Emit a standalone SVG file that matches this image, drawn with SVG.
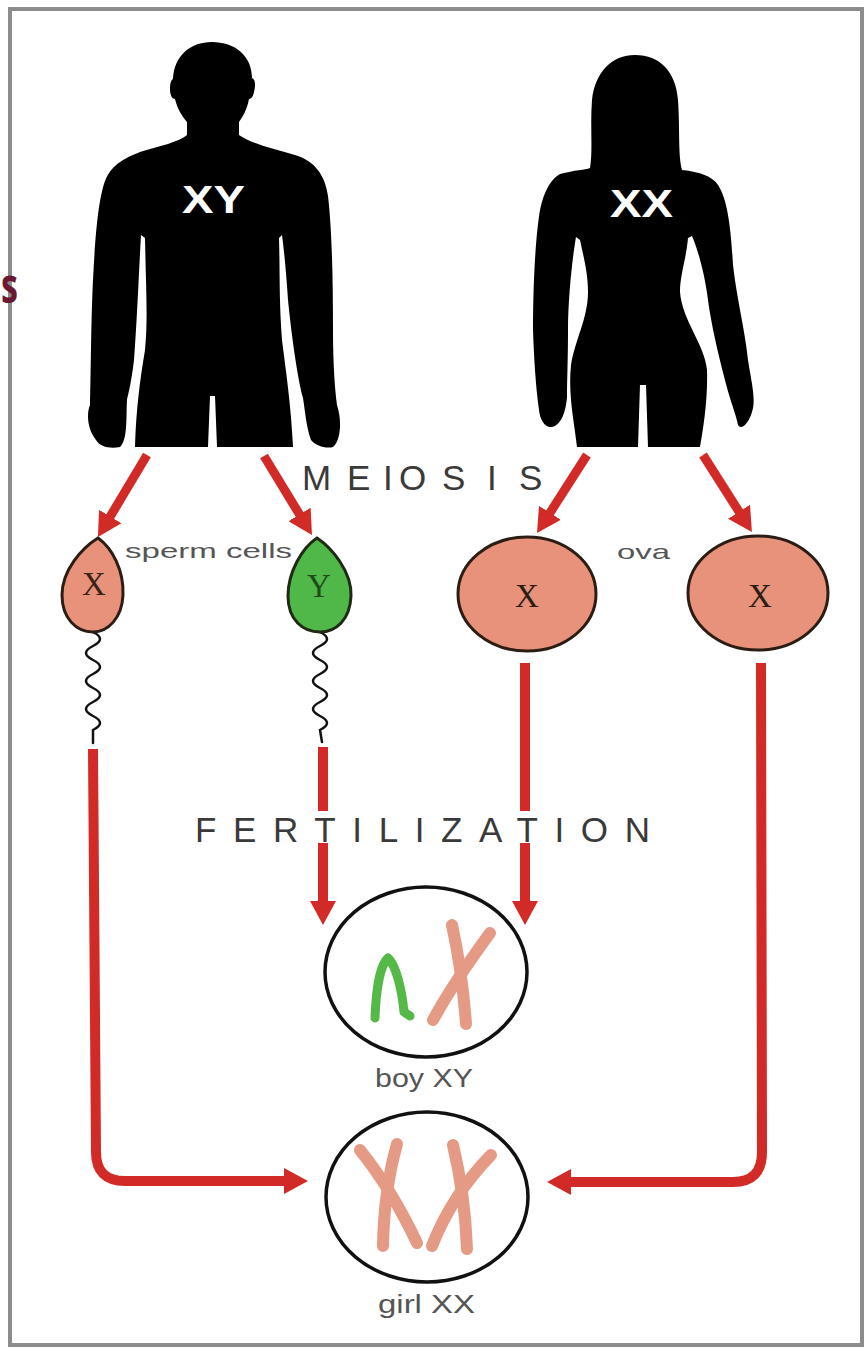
<svg xmlns="http://www.w3.org/2000/svg" width="864" height="1348" viewBox="0 0 864 1348">
  <defs>
    <style>
      .frame { fill: #ffffff; stroke: #8c8c8c; stroke-width: 4; }
      .body { fill: #000000; }
      .body-label { font-family: "Liberation Sans", Arial, sans-serif; font-weight: bold; font-size: 38px; fill: #ffffff; }
      .cell-x { fill: #e8917b; stroke: #2b1d14; stroke-width: 3; }
      .cell-y { fill: #4fb848; stroke: #1f2a14; stroke-width: 3; }
      .tail { fill: none; stroke: #111111; stroke-width: 2.5; stroke-linecap: round; }
      .gene { font-family: "Liberation Serif", "Times New Roman", serif; font-size: 33px; text-anchor: middle; }
      .zygote { fill: #ffffff; stroke: #111111; stroke-width: 3.5; }
      .chrom-x { fill: none; stroke: #e59a86; stroke-width: 12; stroke-linecap: round; }
      .chrom-y { fill: none; stroke: #55b947; stroke-width: 9; stroke-linecap: round; stroke-linejoin: round; }
      .stage { font-family: "Liberation Sans", Arial, sans-serif; font-size: 35px; fill: #3a3a3a; }
      .caption { font-family: "Liberation Sans", Arial, sans-serif; font-size: 21px; fill: #555555; }
      .caption-lg { font-family: "Liberation Sans", Arial, sans-serif; font-size: 25px; fill: #555555; }
      .flow { fill: none; stroke: #d22a26; stroke-width: 10; }
      .flow-thin { fill: none; stroke: #d22a26; stroke-width: 9; }
    </style>
    <marker id="head" markerUnits="userSpaceOnUse" viewBox="0 0 24 26" refX="4" refY="13" markerWidth="24" markerHeight="26" orient="auto">
      <path d="M0 0 L24 13 L0 26 Z" fill="#d22a26"/>
    </marker>
  </defs>

  <rect width="864" height="1348" fill="#ffffff"/>
  <rect class="frame" x="10" y="9" width="852" height="1336"/>
  <text x="1" y="303" font-family="'Open Sans', 'Liberation Sans', sans-serif" font-weight="bold" font-size="50" fill="#6b1830" textLength="17" lengthAdjust="spacingAndGlyphs">s</text>

  <!-- connectors -->
  <g id="connectors">
    <line class="flow-thin" x1="147" y1="455" x2="108.2" y2="519.9" marker-end="url(#head)"/>
    <line class="flow-thin" x1="264" y1="456" x2="301.6" y2="517.9" marker-end="url(#head)"/>
    <line class="flow-thin" x1="587" y1="455" x2="547.8" y2="516.2" marker-end="url(#head)"/>
    <line class="flow-thin" x1="703" y1="455" x2="741.2" y2="515.1" marker-end="url(#head)"/>
    <line class="flow" x1="323" y1="747" x2="323" y2="905" marker-end="url(#head)"/>
    <line class="flow" x1="525" y1="663" x2="525" y2="905" marker-end="url(#head)"/>
    <path class="flow" d="M93 749 L96 1152 Q96 1181 125 1181 L288 1181" marker-end="url(#head)"/>
    <path class="flow" d="M761 663 L762 1152 Q762 1182 733 1182 L567 1182" marker-end="url(#head)"/>
  </g>

  <!-- father -->
  <g id="male">
    <path class="body" d="M212 42 C235 42 252 56 252 78 C255 79 256 84 254 92 C253 97 251 99 249 99 C247 110 242 118 239 122 L239 135 C252 144 275 149 295 155 C315 161 325 175 328 196 C332 230 333 280 333 330 C333 365 335 390 337 405 C342 420 341 440 333 447 C326 449 316 446 311 440 C306 426 305 410 303 398 C298 380 292 340 288 300 C286 270 284 250 282 235 L279 238 C280 270 279 300 282 340 C286 372 291 405 293 447 L217 447 L215 396 L210 396 L208 447 L135 447 C136 410 140 380 145 350 C148 320 146 290 145 238 L141 235 C139 270 137 320 134 360 C131 385 128 395 127 400 C126 415 128 440 120 447 C110 449 100 447 96 440 C88 430 86 415 90 405 C91 370 91 320 93 280 C95 240 98 200 105 181 C112 163 128 157 140 152 C160 146 179 142 187 135 L187 122 C182 116 177 108 175 99 C172 99 170 95 170 89 C170 83 171 80 173 79 C174 56 190 42 212 42 Z"/>
    <text class="body-label" x="182" y="213" textLength="63" lengthAdjust="spacingAndGlyphs">XY</text>
  </g>

  <!-- mother -->
  <g id="female">
    <path class="body" d="M635 55 C660 55 676 72 678 100 C680 130 678 155 682 170 C700 172 712 176 718 185 C728 200 731 230 733 265 C737 300 745 330 748 360 C752 385 756 400 752 412 C748 425 741 430 738 425 C736 415 732 405 730 398 C722 370 712 330 708 300 C705 275 698 250 692 236 L688 238 C686 260 680 275 680 292 C682 320 705 345 707 370 C708 400 703 430 700 447 L648 447 L646 385 L640 385 L638 447 L577 447 C574 420 568 395 571 365 C575 340 588 318 588 292 C588 272 583 255 580 240 L576 237 C572 260 568 300 568 330 C568 360 567 380 567 397 C566 410 562 425 552 427 C545 428 540 420 539 410 C536 390 534 360 533 330 C533 290 535 240 540 210 C544 190 552 178 560 174 C575 170 585 170 590 168 C593 150 590 125 592 100 C595 72 612 55 635 55 Z"/>
    <text class="body-label" x="610" y="217" textLength="63" lengthAdjust="spacingAndGlyphs">XX</text>
  </g>

  <!-- stage titles -->
  <g id="titles">
    <text class="stage" y="490" x="302 347 383 399 442 487 519">MEIOSIS</text>
    <rect x="190" y="811" width="465" height="32" fill="#ffffff"/>
    <text class="stage" x="195" y="842" textLength="455">FERTILIZATION</text>
  </g>

  <!-- sperm cells -->
  <g id="sperm-x">
    <path class="tail" d="M93 632 q14 7 0 14 q-14 7 0 14 q14 7 0 14 q-14 7 0 14 q14 7 0 14 q-14 7 0 14 q14 7 0 14 L93 743"/>
    <path class="cell-x" d="M98 538 C112 548 124 570 123 595 C122 618 108 632 93 632 C76 632 62 618 62 595 C62 570 82 548 98 538 Z"/>
    <text class="gene" x="94" y="595" fill="#3a2418">X</text>
  </g>
  <g id="sperm-y">
    <path class="tail" d="M320 632 q14 7 0 14 q-14 7 0 14 q14 7 0 14 q-14 7 0 14 q14 7 0 14 q-14 7 0 14 q14 7 0 14 L322 742"/>
    <path class="cell-y" d="M317 538 C332 548 352 572 351 596 C350 620 336 632 320 632 C303 632 288 620 288 596 C288 572 302 548 317 538 Z"/>
    <text class="gene" x="319" y="597" fill="#1f4d1a">Y</text>
  </g>
  <text class="caption" x="125" y="558" textLength="167" lengthAdjust="spacingAndGlyphs">sperm cells</text>

  <!-- egg cells -->
  <g id="ovum-1">
    <ellipse class="cell-x" cx="527" cy="594" rx="69" ry="57"/>
    <text class="gene" x="527" y="607" fill="#2b1d14">X</text>
  </g>
  <g id="ovum-2">
    <ellipse class="cell-x" cx="758" cy="593" rx="70" ry="57"/>
    <text class="gene" x="760" y="607" fill="#2b1d14">X</text>
  </g>
  <text class="caption" x="617" y="559" textLength="53" lengthAdjust="spacingAndGlyphs">ova</text>

  <!-- offspring -->
  <g id="zygote-boy">
    <ellipse class="zygote" cx="426" cy="972" rx="101" ry="85"/>
    <path class="chrom-y" d="M375 1018 C376 990 380 965 388 958 C396 965 402 990 404 1012 L410 1016"/>
    <path class="chrom-x" d="M433 1020 Q452 985 490 933"/>
    <path class="chrom-x" d="M452 925 Q462 970 466 1024"/>
    <text class="caption-lg" x="375" y="1087" textLength="98" lengthAdjust="spacingAndGlyphs">boy XY</text>
  </g>
  <g id="zygote-girl">
    <ellipse class="zygote" cx="427" cy="1197" rx="101" ry="85"/>
    <path class="chrom-x" d="M360 1150 Q392 1190 417 1243"/>
    <path class="chrom-x" d="M397 1144 Q384 1190 383 1246"/>
    <path class="chrom-x" d="M453 1145 Q465 1195 467 1249"/>
    <path class="chrom-x" d="M491 1155 Q452 1195 432 1246"/>
    <text class="caption-lg" x="378" y="1313" textLength="97" lengthAdjust="spacingAndGlyphs">girl XX</text>
  </g>
</svg>
